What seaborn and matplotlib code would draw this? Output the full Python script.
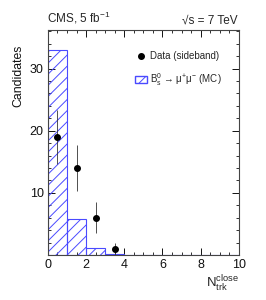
import numpy as np
import matplotlib
matplotlib.use('Agg')
import matplotlib.pyplot as plt
import matplotlib.patches as mpatches
import matplotlib.lines as mlines
import seaborn as sns

# MC histogram (B_s -> mu mu), one bin per track multiplicity
bin_edges = [0, 1, 2, 3, 4, 5, 6, 7, 8, 9, 10]
mc_counts = [33.0, 5.8, 1.05, 0.1, 0.0, 0.0, 0.0, 0.0, 0.0, 0.0]

# sideband data points
data_x = [0.5, 1.5, 2.5, 3.5]
data_y = [19, 14, 6, 1]
data_err = [4.36, 3.74, 2.45, 1.0]

sns.set_style('ticks')
plt.rcParams['font.family'] = ['Liberation Sans', 'DejaVu Sans']
plt.rcParams['mathtext.fontset'] = 'custom'
plt.rcParams['mathtext.rm'] = 'Liberation Sans'
plt.rcParams['mathtext.it'] = 'Liberation Sans:italic'
plt.rcParams['hatch.color'] = '#4a4aff'
plt.rcParams['hatch.linewidth'] = 0.7

fig = plt.figure(figsize=(2.66, 3.0), dpi=100)
ax = fig.add_axes([0.180, 0.150, 0.718, 0.750])

centers = [(a + b) / 2 for a, b in zip(bin_edges[:-1], bin_edges[1:])]
sns.histplot(x=centers, weights=mc_counts, bins=bin_edges, element='bars',
             facecolor='none', edgecolor='#4a4aff', hatch='///',
             linewidth=0.8, ax=ax)

ax.errorbar(data_x, data_y, yerr=data_err, fmt='o', color='black',
            markersize=4, elinewidth=0.6, ecolor='#333333', capsize=0)

ax.set_xlim(0, 10)
ax.set_ylim(0, 36.2)
ax.set_xticks([0, 2, 4, 6, 8, 10])
ax.set_xticks(np.arange(0, 10.01, 0.5), minor=True)
ax.set_yticks([10, 20, 30])
ax.set_yticks(np.arange(0, 36.2, 2), minor=True)
ax.tick_params(which='both', direction='in', top=True, right=True,
               labelsize=9, colors='#111111', pad=3)
ax.tick_params(which='major', length=5, width=0.7)
ax.tick_params(which='minor', length=2.5, width=0.6)
for sp in ax.spines.values():
    sp.set_linewidth(0.8)
    sp.set_color('#444444')

ax.set_ylabel('Candidates', fontsize=8.8, color='#111111')
ax.yaxis.set_label_coords(-0.125, 0.795)
ax.set_xlabel('')
fig.text(0.898, 0.088, r'N$_{\rm trk}^{\rm close}$', ha='right', va='top', fontsize=9.5)
fig.text(0.178, 0.912, r'CMS, 5 fb$^{-1}$', ha='left', va='bottom', fontsize=8.5)
fig.text(0.895, 0.912, '√s = 7 TeV', ha='right', va='bottom', fontsize=8.5)

data_handle = mlines.Line2D([], [], color='black', marker='o', linestyle='none',
                            markersize=4, label='Data (sideband)')
mc_handle = mpatches.Patch(facecolor='none', edgecolor='#4a4aff', hatch='///',
                           label=r'B$_{\rm s}^{0}$ → μ$^{+}$μ$^{-}$ (MC)')
ax.legend(handles=[data_handle, mc_handle], loc='upper right', frameon=False,
          fontsize=7, bbox_to_anchor=(0.955, 0.945), handlelength=1.2,
          handletextpad=0.3, labelspacing=1.0)

fig.savefig('out.png', dpi=100)
